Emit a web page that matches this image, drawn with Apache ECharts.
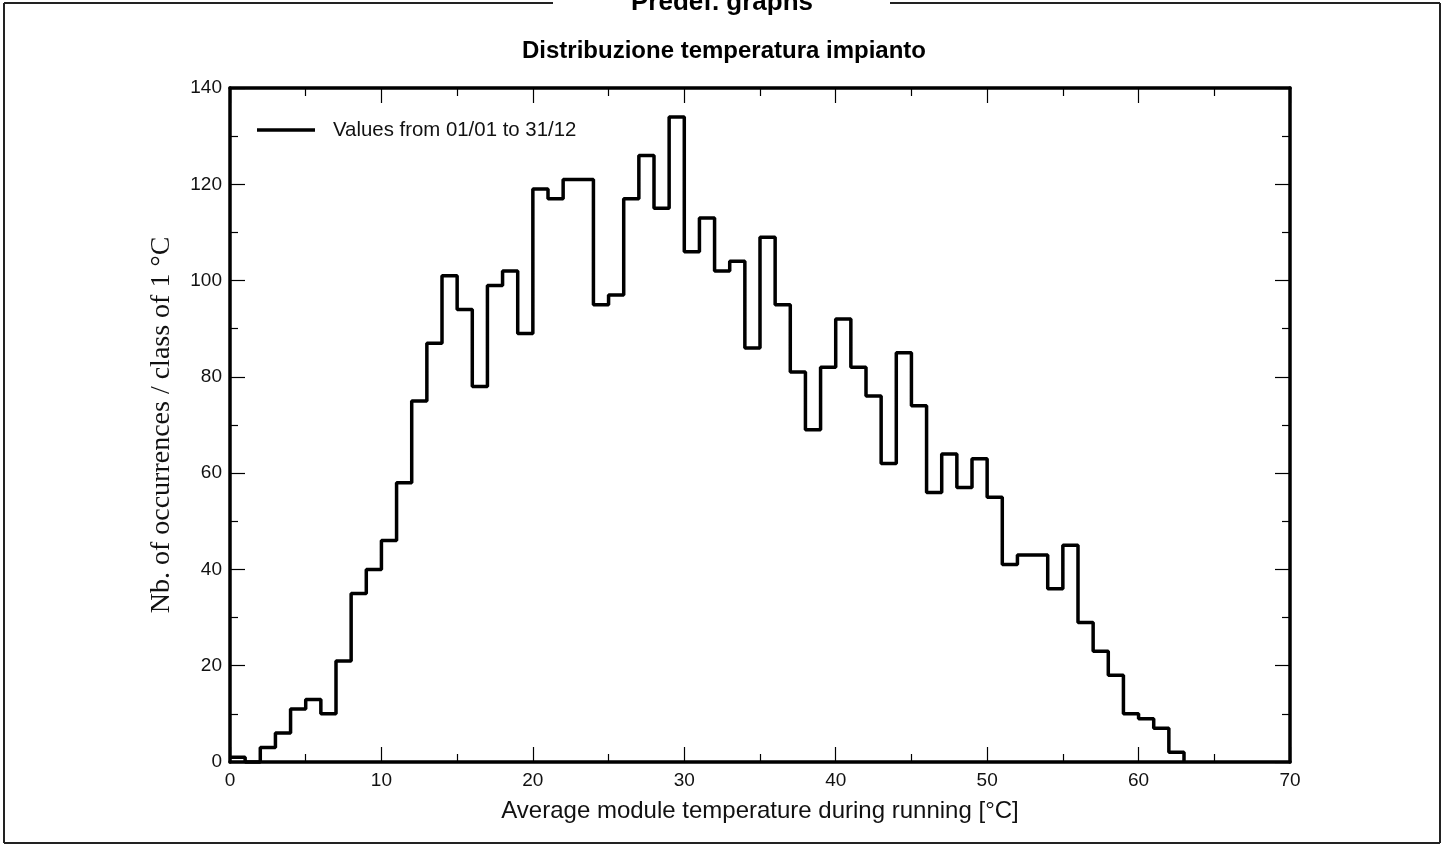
<!DOCTYPE html>
<html>
<head>
<meta charset="utf-8">
<script src="https://cdn.jsdelivr.net/npm/echarts@6/dist/echarts.min.js"></script>
<style>
html,body{margin:0;padding:0;background:#fff;}
#c{width:1448px;height:846px;}
</style>
</head>
<body>
<div id="c"></div>
<script>
// Temperature class start (°C), one class per 1 °C
const tempClasses = [0,1,2,3,4,5,6,7,8,9,10,11,12,13,14,15,16,17,18,19,20,21,22,23,24,25,26,27,28,29,30,31,32,33,34,35,36,37,38,39,40,41,42,43,44,45,46,47,48,49,50,51,52,53,54,55,56,57,58,59,60,61,62,63];
// Number of occurrences per class
const occurrences = [1,0,3,6,11,13,10,21,35,40,46,58,75,87,101,94,78,99,102,89,119,117,121,121,95,97,117,126,115,134,106,113,102,104,86,109,95,81,69,82,92,82,76,62,85,74,56,64,57,63,55,41,43,43,36,45,29,23,18,10,9,7,2,0];
const xTicks = [0,10,20,30,40,50,60,70];
const yTicks = [0,20,40,60,80,100,120,140];
const seriesName = 'Values from 01/01 to 31/12';

const data = tempClasses.map((t,i)=>[t, occurrences[i]]);
const chart = echarts.init(document.getElementById('c'));
const sans = '"Liberation Sans", Arial, sans-serif';
const serif = '"Liberation Serif", "Times New Roman", serif';

const commonTick = {show:true, inside:true, length:15, lineStyle:{color:'#000', width:1.2}};
const commonMinor = {show:true, splitNumber:2, length:8, lineStyle:{color:'#000', width:1.2}};
const axLine = {show:true, onZero:false, lineStyle:{color:'#000', width:3.5}};

chart.setOption({
  backgroundColor:'#fff',
  animation:false,
  title:{
    text:'Distribuzione temperatura impianto',
    left:'center', top:34,
    textStyle:{fontFamily:sans, fontSize:24, fontWeight:'bold', color:'#000'}
  },
  legend:{
    left:252, top:115,
    itemWidth:58, itemHeight:20,
    data:[{name:seriesName, icon:'path://M0,0 L58,0 L58,3.5 L0,3.5 Z'}],
    textStyle:{fontFamily:sans, fontSize:20.4, color:'#111', padding:[0,0,0,13]},
    itemStyle:{color:'#000'}
  },
  grid:{left:230, right:158, top:88, bottom:84, containLabel:false},
  xAxis:[{
    type:'value', min:0, max:70, interval:10, position:'bottom',
    name:'Average module temperature during running [°C]',
    nameLocation:'middle', nameGap:37,
    nameTextStyle:{fontFamily:sans, fontSize:24, color:'#111'},
    axisLine:axLine, axisTick:commonTick, minorTick:commonMinor,
    axisLabel:{fontFamily:sans, fontSize:19, color:'#111', margin:9,
      formatter:v=> xTicks.includes(v)? String(v):''},
    splitLine:{show:false}
  },{
    type:'value', min:0, max:70, interval:10, position:'top',
    axisLine:axLine, axisTick:commonTick, minorTick:commonMinor,
    axisLabel:{show:false}, splitLine:{show:false}
  }],
  yAxis:[{
    type:'value', min:0, max:140, interval:20, position:'left',
    name:'Nb. of occurrences / class of 1 °C',
    nameLocation:'middle', nameGap:54,
    nameTextStyle:{fontFamily:serif, fontSize:28, color:'#111'},
    axisLine:axLine, axisTick:commonTick, minorTick:commonMinor,
    axisLabel:{fontFamily:sans, fontSize:19, color:'#111', margin:8,
      formatter:v=> yTicks.includes(v)? String(v):''},
    splitLine:{show:false}
  },{
    type:'value', min:0, max:140, interval:20, position:'right',
    axisLine:axLine, axisTick:commonTick, minorTick:commonMinor,
    axisLabel:{show:false}, splitLine:{show:false}
  }],
  series:[{
    name:seriesName, type:'line', step:'end',
    data:data, showSymbol:false, symbol:'none',
    lineStyle:{color:'#000', width:3.5},
    itemStyle:{color:'#000'},
    clip:false
  }],
  graphic:[
    {type:'line', shape:{x1:4, y1:3, x2:4, y2:843}, style:{stroke:'#222', lineWidth:2}},
    {type:'line', shape:{x1:1440, y1:3, x2:1440, y2:843}, style:{stroke:'#222', lineWidth:2}},
    {type:'line', shape:{x1:4, y1:843, x2:1440, y2:843}, style:{stroke:'#222', lineWidth:2}},
    {type:'line', shape:{x1:4, y1:3, x2:553, y2:3}, style:{stroke:'#222', lineWidth:2}},
    {type:'line', shape:{x1:890, y1:3, x2:1440, y2:3}, style:{stroke:'#222', lineWidth:2}},
    {type:'text', x:722, y:16, style:{text:'Predef. graphs', fill:'#000',
      font:'bold 26px "Liberation Sans", Arial, sans-serif', textAlign:'center', textVerticalAlign:'bottom'}}
  ]
});
</script>
</body>
</html>
